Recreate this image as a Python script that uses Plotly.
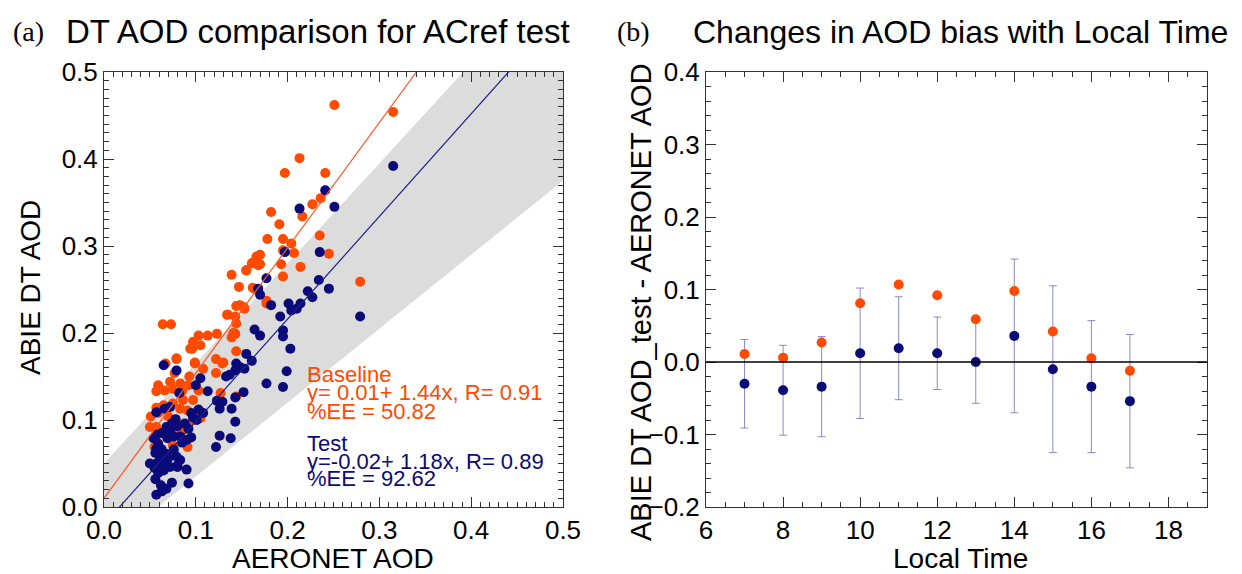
import plotly.graph_objects as go

# ---------------- data: panel (a) ----------------
base_x = [0.251, 0.315, 0.213, 0.197, 0.241, 0.236, 0.227, 0.216, 0.182, 0.191, 0.178, 0.195, 0.204,
          0.235, 0.195, 0.207, 0.245, 0.193, 0.214, 0.170, 0.162, 0.170, 0.155, 0.139, 0.195, 0.147,
          0.164, 0.279, 0.177, 0.144, 0.152, 0.134, 0.143, 0.144, 0.143, 0.139, 0.123, 0.113, 0.103,
          0.097, 0.096, 0.064, 0.073, 0.144, 0.122, 0.129, 0.099, 0.079, 0.067, 0.108, 0.122, 0.077,
          0.093, 0.072, 0.083, 0.059, 0.057, 0.066, 0.075, 0.085, 0.092, 0.103, 0.127, 0.144, 0.097,
          0.086, 0.075, 0.065, 0.057, 0.083, 0.091, 0.059, 0.070, 0.050, 0.057, 0.064, 0.056, 0.055,
          0.062, 0.075, 0.091, 0.072, 0.061, 0.078, 0.097, 0.105, 0.051, 0.078, 0.087, 0.166, 0.161,
          0.168, 0.155, 0.162, 0.148, 0.153, 0.135, 0.177, 0.141, 0.105, 0.094, 0.079, 0.099, 0.130]
base_y = [0.462, 0.454, 0.401, 0.384, 0.384, 0.355, 0.348, 0.334, 0.339, 0.325, 0.308, 0.308, 0.303,
          0.312, 0.295, 0.292, 0.291, 0.279, 0.276, 0.290, 0.281, 0.279, 0.272, 0.267, 0.265, 0.253,
          0.251, 0.259, 0.237, 0.231, 0.230, 0.221, 0.219, 0.211, 0.199, 0.195, 0.199, 0.197, 0.197,
          0.190, 0.182, 0.210, 0.210, 0.179, 0.170, 0.165, 0.165, 0.170, 0.165, 0.159, 0.154, 0.154,
          0.150, 0.144, 0.142, 0.140, 0.133, 0.134, 0.136, 0.133, 0.140, 0.134, 0.131, 0.127, 0.123,
          0.123, 0.119, 0.117, 0.114, 0.113, 0.111, 0.108, 0.104, 0.092, 0.092, 0.085, 0.079, 0.069,
          0.067, 0.071, 0.069, 0.060, 0.054, 0.085, 0.100, 0.102, 0.104, 0.100, 0.089, 0.288, 0.280,
          0.278, 0.272, 0.252, 0.232, 0.228, 0.221, 0.234, 0.200, 0.186, 0.182, 0.171, 0.166, 0.166]

test_x = [0.315, 0.241, 0.213, 0.251, 0.197, 0.235, 0.177, 0.168, 0.170, 0.234, 0.245, 0.222, 0.227,
          0.201, 0.214, 0.210, 0.204, 0.182, 0.192, 0.279, 0.164, 0.170, 0.195, 0.195, 0.203, 0.155,
          0.161, 0.144, 0.148, 0.153, 0.143, 0.199, 0.065, 0.079, 0.177, 0.195, 0.137, 0.133, 0.105,
          0.100, 0.082, 0.113, 0.152, 0.143, 0.123, 0.129, 0.126, 0.139, 0.143, 0.095, 0.103, 0.108,
          0.097, 0.101, 0.072, 0.066, 0.057, 0.078, 0.074, 0.080, 0.068, 0.088, 0.092, 0.057, 0.063,
          0.072, 0.076, 0.083, 0.069, 0.095, 0.090, 0.085, 0.126, 0.138, 0.122, 0.057, 0.063, 0.068,
          0.076, 0.061, 0.070, 0.079, 0.083, 0.057, 0.063, 0.066, 0.050, 0.080, 0.090, 0.092, 0.080,
          0.056, 0.062, 0.074, 0.057, 0.063, 0.068, 0.055, 0.059, 0.065, 0.072, 0.054, 0.059, 0.056]
test_y = [0.392, 0.364, 0.343, 0.345, 0.293, 0.293, 0.263, 0.251, 0.244, 0.261, 0.251, 0.248, 0.241,
          0.234, 0.234, 0.228, 0.226, 0.232, 0.219, 0.219, 0.204, 0.197, 0.203, 0.196, 0.182, 0.176,
          0.168, 0.165, 0.161, 0.159, 0.157, 0.156, 0.163, 0.157, 0.142, 0.138, 0.152, 0.150, 0.148,
          0.140, 0.131, 0.133, 0.132, 0.126, 0.122, 0.121, 0.113, 0.113, 0.098, 0.108, 0.112, 0.108,
          0.103, 0.100, 0.115, 0.113, 0.109, 0.101, 0.096, 0.093, 0.092, 0.096, 0.090, 0.083, 0.085,
          0.088, 0.081, 0.081, 0.079, 0.080, 0.077, 0.074, 0.082, 0.079, 0.069, 0.067, 0.066, 0.061,
          0.066, 0.058, 0.056, 0.058, 0.054, 0.050, 0.050, 0.048, 0.050, 0.048, 0.043, 0.027, 0.046,
          0.032, 0.025, 0.028, 0.014, 0.018, 0.021, 0.045, 0.039, 0.042, 0.046, 0.079, 0.073, 0.062]

# regression / envelope coefficients
base_fit = (0.01, 1.44)
test_fit = (-0.02, 1.18)
ee_abs, ee_rel = 0.05, 0.15

# ---------------- data: panel (b) ----------------
hours = [7, 8, 9, 10, 11, 12, 13, 14, 15, 16, 17]
bias_base = [0.011, 0.006, 0.027, 0.081, 0.107, 0.092, 0.059, 0.098, 0.042, 0.005, -0.012]
bias_test = [-0.030, -0.039, -0.034, 0.012, 0.019, 0.012, 0.000, 0.036, -0.010, -0.034, -0.054]
bias_test_sd = [0.061, 0.062, 0.069, 0.090, 0.071, 0.050, 0.057, 0.106, 0.115, 0.091, 0.092]

ORANGE = "#FF4A00"
NAVY = "#0A0A78"
FONT = "Liberation Sans"

fig = go.Figure()

# EE envelope
env_x = [0.0, 0.5, 0.5, 0.0]
env_y = [ee_abs + (1 + ee_rel) * env_x[0], ee_abs + (1 + ee_rel) * env_x[1],
         -ee_abs + (1 - ee_rel) * env_x[2], -ee_abs + (1 - ee_rel) * env_x[3]]
fig.add_trace(go.Scatter(x=env_x, y=env_y, fill="toself", fillcolor="#DCDCDC", mode="none",
                         xaxis="x", yaxis="y", hoverinfo="skip", showlegend=False))

# points
fig.add_trace(go.Scatter(x=base_x, y=base_y, mode="markers", xaxis="x", yaxis="y",
                         marker=dict(color=ORANGE, size=10), showlegend=False))
fig.add_trace(go.Scatter(x=test_x, y=test_y, mode="markers", xaxis="x", yaxis="y",
                         marker=dict(color=NAVY, size=10), showlegend=False))

# regression lines
lx = [0.0, 0.5]
fig.add_trace(go.Scatter(x=lx, y=[base_fit[0] + base_fit[1] * v for v in lx], mode="lines",
                         xaxis="x", yaxis="y", line=dict(color="#FF5A28", width=1.2), showlegend=False))
fig.add_trace(go.Scatter(x=lx, y=[test_fit[0] + test_fit[1] * v for v in lx], mode="lines",
                         xaxis="x", yaxis="y", line=dict(color="#1E1E8C", width=1.2), showlegend=False))

# panel (b)
fig.add_trace(go.Scatter(x=hours, y=bias_test, mode="markers", xaxis="x2", yaxis="y2",
                         marker=dict(size=1, color="rgba(0,0,0,0)"),
                         error_y=dict(type="data", array=bias_test_sd, color="rgba(100,100,185,0.75)",
                                      thickness=1, width=4),
                         showlegend=False, hoverinfo="skip"))
fig.add_trace(go.Scatter(x=hours, y=bias_base, mode="markers", xaxis="x2", yaxis="y2",
                         marker=dict(color=ORANGE, size=10), showlegend=False))
fig.add_trace(go.Scatter(x=hours, y=bias_test, mode="markers", xaxis="x2", yaxis="y2",
                         marker=dict(color=NAVY, size=10), showlegend=False))

fig.add_shape(type="line", xref="x2 domain", yref="y2", x0=0, x1=1, y0=0, y1=0,
              line=dict(color="black", width=1.3))

# page is 1242x574; the page body adds an 8px offset, so the figure is sized to fit
PW, PH, OFF = 1242, 574, 8
W, H = PW - OFF, PH - OFF


def fx(px):
    return (px - OFF) / W


def fy(py):
    return (PH - py) / H


axis_common = dict(showgrid=False, zeroline=False, showline=True, linecolor="#333", linewidth=1,
                   mirror="allticks", ticks="inside", ticklen=10, tickcolor="#333", tickwidth=1,
                   automargin=False,
                   tickfont=dict(family=FONT, size=26, color="black"))

fig.update_layout(
    width=W, height=H, margin=dict(l=0, r=0, t=0, b=0, autoexpand=False),
    paper_bgcolor="white", plot_bgcolor="white",
    xaxis=dict(domain=[fx(104), fx(563)], range=[0, 0.5], dtick=0.1, tickformat=".1f",
               minor=dict(dtick=0.01, ticks="inside", ticklen=5, tickcolor="#333"),
               anchor="y", **axis_common),
    yaxis=dict(domain=[fy(507), fy(72)], range=[0, 0.5], dtick=0.1, tickformat=".1f",
               minor=dict(dtick=0.01, ticks="inside", ticklen=5, tickcolor="#333"),
               anchor="x", **axis_common),
    xaxis2=dict(domain=[fx(706), fx(1207)], range=[6, 19], dtick=2,
                minor=dict(dtick=0.5, ticks="inside", ticklen=5, tickcolor="#333"),
                anchor="y2", **axis_common),
    yaxis2=dict(domain=[fy(507), fy(72)], range=[-0.2, 0.4], dtick=0.1, tickformat=".1f",
                minor=dict(dtick=0.02, ticks="inside", ticklen=5, tickcolor="#333"),
                anchor="x2", **axis_common),
)


def ann(text, px, py, size, color="black", angle=0, family=FONT, xanchor="center", yanchor="middle"):
    fig.add_annotation(text=text, x=fx(px), y=fy(py), xref="paper", yref="paper",
                       showarrow=False, font=dict(family=family, size=size, color=color),
                       textangle=angle, xanchor=xanchor, yanchor=yanchor)


ann("(a)", 28, 32, 28, family="Liberation Serif")
ann("DT AOD comparison for ACref test", 318, 32, 33)
ann("(b)", 633, 32, 28, family="Liberation Serif")
ann("Changes in AOD bias with Local Time", 960, 32, 32)

ann("ABIE DT AOD", 30, 288, 28, angle=-90)
ann("AERONET AOD", 333, 558, 28)
ann("ABIE DT AOD_test - AERONET AOD", 641, 302, 29, angle=-90)
ann("Local Time", 960, 558, 28)

stat_size = 22
ann("Baseline", 305, 375, stat_size, color=ORANGE, xanchor="left")
ann("y= 0.01+ 1.44x, R= 0.91", 305, 393, stat_size, color=ORANGE, xanchor="left")
ann("%EE = 50.82", 305, 411, stat_size, color=ORANGE, xanchor="left")
ann("Test", 305, 443, stat_size, color=NAVY, xanchor="left")
ann("y=-0.02+ 1.18x, R= 0.89", 305, 461, stat_size, color=NAVY, xanchor="left")
ann("%EE = 92.62", 305, 478, stat_size, color=NAVY, xanchor="left")

fig.write_html("out.html")
